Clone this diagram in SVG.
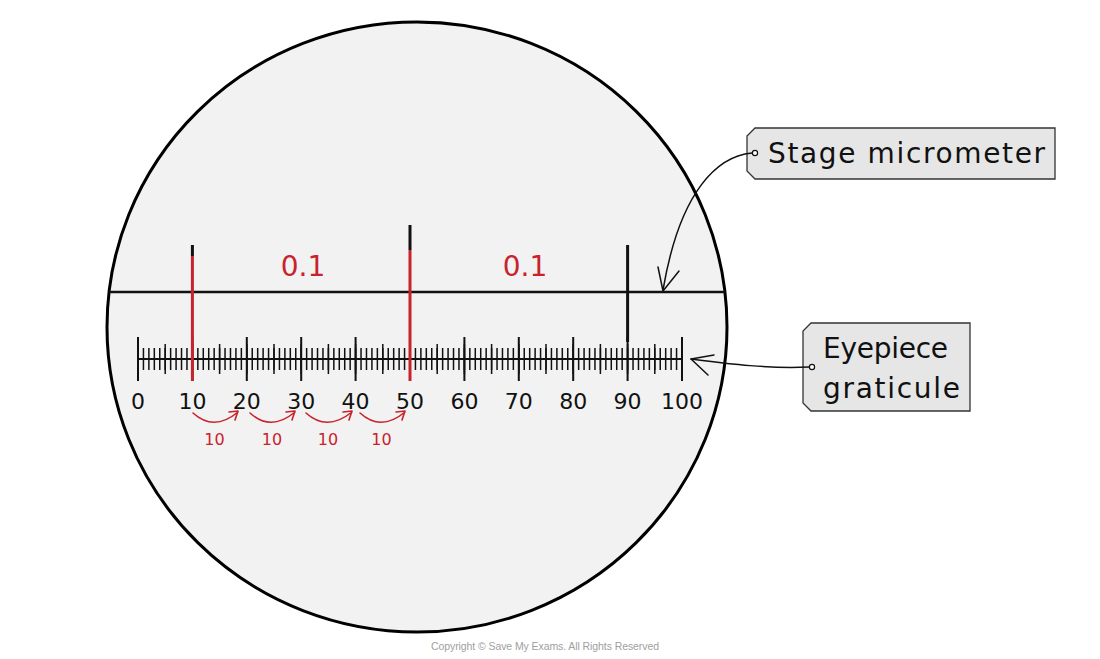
<svg xmlns="http://www.w3.org/2000/svg" width="1100" height="659" viewBox="0 0 1100 659">
<style>
.num{font-family:"DejaVu Sans",sans-serif;font-size:22px;fill:#111;text-anchor:middle}
.red{font-family:"DejaVu Sans",sans-serif;fill:#c8232c;text-anchor:middle}
.lbl{font-family:"DejaVu Sans",sans-serif;font-size:28px;fill:#111}
.tag{fill:#e6e6e6;stroke:#333;stroke-width:1.3}
.conn{fill:none;stroke:#111;stroke-width:1.5;stroke-linecap:round;stroke-linejoin:round}
.rarc{fill:none;stroke:#c8232c;stroke-width:1.6;stroke-linecap:round;stroke-linejoin:round}
</style>
<rect width="1100" height="659" fill="#ffffff"/>
<g id="field">
<ellipse cx="417" cy="327" rx="310" ry="305" fill="#f2f2f2" stroke="#000" stroke-width="3"/>
</g>
<g id="eyepiece-graticule">
<line x1="138" y1="359" x2="682" y2="359" stroke="#111" stroke-width="2"/>
<line x1="137.25" y1="359" x2="682.75" y2="359" stroke="#111" stroke-width="22" stroke-dasharray="1.5 3.94"/>
<line x1="137.25" y1="359" x2="682.75" y2="359" stroke="#111" stroke-width="30" stroke-dasharray="1.5 25.7"/>
<line x1="137" y1="359" x2="683" y2="359" stroke="#111" stroke-width="44" stroke-dasharray="2 52.4"/>
<text class="num" x="138" y="409">0</text>
<text class="num" x="192.4" y="409">10</text>
<text class="num" x="246.8" y="409">20</text>
<text class="num" x="301.2" y="409">30</text>
<text class="num" x="355.6" y="409">40</text>
<text class="num" x="410" y="409">50</text>
<text class="num" x="464.4" y="409">60</text>
<text class="num" x="518.8" y="409">70</text>
<text class="num" x="573.2" y="409">80</text>
<text class="num" x="627.6" y="409">90</text>
<text class="num" x="682" y="409">100</text>
</g>
<g id="stage-micrometer">
<line x1="109" y1="292" x2="725" y2="292" stroke="#111" stroke-width="2.5"/>
<line x1="192.4" y1="245" x2="192.4" y2="256" stroke="#111" stroke-width="3"/>
<line x1="192.4" y1="256" x2="192.4" y2="381" stroke="#c8232c" stroke-width="3"/>
<line x1="410" y1="225" x2="410" y2="250" stroke="#111" stroke-width="3"/>
<line x1="410" y1="250" x2="410" y2="381" stroke="#c8232c" stroke-width="3"/>
<line x1="627.6" y1="245" x2="627.6" y2="342" stroke="#111" stroke-width="3"/>
<text class="red" x="303" y="276" font-size="28">0.1</text>
<text class="red" x="525" y="276" font-size="28">0.1</text>
</g>
<g id="counting-arrows">
<path class="rarc" d="M193,413 Q214,432 238,412 M229,412 L238,411 L235,420"/>
<path class="rarc" d="M250,413 Q271,432 295,412 M286,412 L295,411 L292,420"/>
<path class="rarc" d="M306,413 Q327,432 352,412 M343,412 L352,411 L349,420"/>
<path class="rarc" d="M360,413 Q381,432 405,412 M396,412 L405,411 L402,420"/>
<text class="red" x="214.5" y="445" font-size="16">10</text>
<text class="red" x="272" y="445" font-size="16">10</text>
<text class="red" x="328" y="445" font-size="16">10</text>
<text class="red" x="381.5" y="445" font-size="16">10</text>
</g>
<g id="label-stage">
<polygon class="tag" points="755,128 1055,128 1055,179 755,179 747,171 747,136"/>
<circle cx="755" cy="153" r="2.6" fill="#fff" stroke="#111" stroke-width="1.2"/>
<text class="lbl" x="768" y="163" textLength="277" lengthAdjust="spacing">Stage micrometer</text>
</g>
<g id="label-eyepiece">
<polygon class="tag" points="811,323 970,323 970,411 811,411 803,403 803,331"/>
<circle cx="812" cy="367" r="2.6" fill="#fff" stroke="#111" stroke-width="1.2"/>
<text class="lbl" x="823" y="358" textLength="125" lengthAdjust="spacing">Eyepiece</text>
<text class="lbl" x="823" y="398" textLength="137" lengthAdjust="spacing">graticule</text>
</g>
<g id="connectors">
<path class="conn" d="M752,153 C718,156 680,190 663,290"/>
<path class="conn" d="M658,267 L663,291 L679,271"/>
<path class="conn" d="M809,367 C770,369 730,364 691,359"/>
<path class="conn" d="M714,355 L691,359 L708,375"/>
</g>
<text x="545" y="650" font-family="Liberation Sans, sans-serif" font-size="10.5" fill="#a0a0a0" text-anchor="middle" textLength="228" lengthAdjust="spacing">Copyright © Save My Exams. All Rights Reserved</text>
</svg>
